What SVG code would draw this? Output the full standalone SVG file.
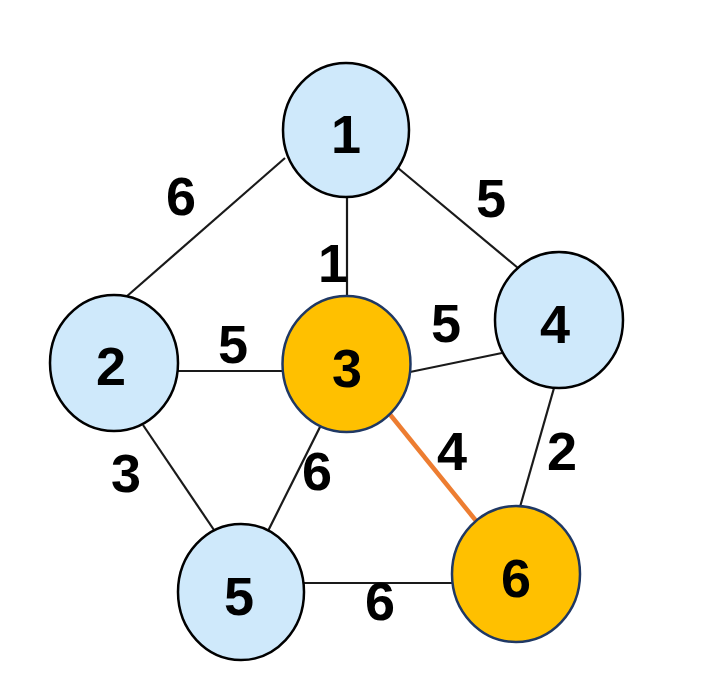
<svg xmlns="http://www.w3.org/2000/svg" width="707" height="686" viewBox="0 0 707 686">
<style>
.e{stroke:#1a1a1a;stroke-width:2.2;fill:none}
.hl{stroke:#ED7D31;stroke-width:4.5;fill:none}
.n{fill:#CFE9FB;stroke:#000;stroke-width:2.5}
.s{fill:#FFC000;stroke:#1F3864;stroke-width:2.5}
text{font-family:"Liberation Sans",Arial,sans-serif;font-weight:bold;font-size:54px;fill:#000;text-anchor:middle}
</style>
<rect width="707" height="686" fill="#fff"/>
<g id="connectors">
<line class="e" x1="285" y1="158" x2="126" y2="297"/>
<line class="e" x1="347" y1="195" x2="347" y2="298"/>
<line class="e" x1="398" y1="168" x2="518" y2="268"/>
<line class="e" x1="176" y1="371" x2="284" y2="371"/>
<line class="e" x1="410" y1="372" x2="502" y2="353"/>
<line class="e" x1="143" y1="425" x2="214" y2="530"/>
<line class="e" x1="321" y1="425" x2="268" y2="531"/>
<line class="hl" x1="388" y1="412" x2="477" y2="522"/>
<line class="e" x1="554" y1="388" x2="520" y2="507"/>
<line class="e" x1="302" y1="583" x2="454" y2="583"/>
<text x="181" y="215">6</text>
<text x="491" y="217">5</text>
<text x="333" y="282">1</text>
<text x="233" y="363">5</text>
<text x="446" y="342">5</text>
<text x="126" y="492">3</text>
<text x="317" y="490">6</text>
<text x="452" y="470">4</text>
<text x="562" y="470">2</text>
<text x="380" y="620">6</text>
</g>
<g id="node1"><ellipse class="n" cx="346" cy="130" rx="63" ry="67"/><text x="346" y="153">1</text></g>
<g id="node2"><ellipse class="n" cx="114" cy="363" rx="64" ry="68"/><text x="111" y="385">2</text></g>
<g id="node3"><ellipse class="s" cx="346.5" cy="364" rx="64" ry="68"/><text x="347" y="387">3</text></g>
<g id="node4"><ellipse class="n" cx="559" cy="320" rx="64" ry="68"/><text x="555" y="343">4</text></g>
<g id="node5"><ellipse class="n" cx="241" cy="592" rx="63" ry="68"/><text x="239" y="615">5</text></g>
<g id="node6"><ellipse class="s" cx="516" cy="574" rx="64" ry="68"/><text x="516" y="597">6</text></g>
</svg>
